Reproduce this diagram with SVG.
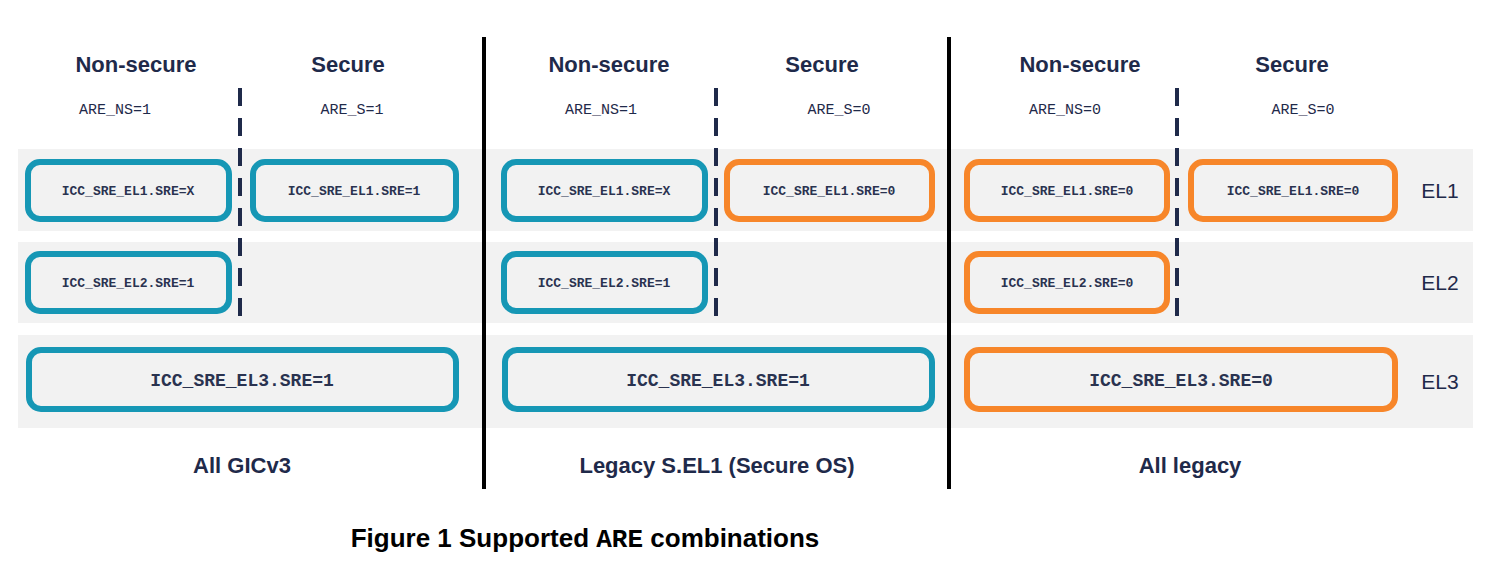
<svg xmlns="http://www.w3.org/2000/svg" width="1489" height="571" viewBox="0 0 1489 571">
<style>
.band{fill:#f2f2f2}
.t{fill:none;stroke:#1697b5;stroke-width:6}
.o{fill:none;stroke:#f7862a;stroke-width:6}
.h{font-family:"Liberation Sans",Arial,sans-serif;font-weight:bold;font-size:22px;fill:#1f2a4a;text-anchor:middle}
.a{font-family:"Liberation Mono","Courier New",monospace;font-size:15px;fill:#1f2a4a;text-anchor:middle}
.m{font-family:"Liberation Mono","Courier New",monospace;font-weight:bold;font-size:13px;fill:#2a3350;text-anchor:middle}
.m3{font-family:"Liberation Mono","Courier New",monospace;font-weight:bold;font-size:18px;fill:#2a3350;text-anchor:middle}
.el{font-family:"Liberation Sans",Arial,sans-serif;font-size:21px;fill:#1f2a4a;text-anchor:middle}
.d{stroke:#1f2a4a;stroke-width:4;stroke-dasharray:18 12}
.v{stroke:#000;stroke-width:4}
</style>
<rect width="1489" height="571" fill="#fff"/>
<g id="bands">
<rect class="band" x="18" y="149" width="1455" height="82"/>
<rect class="band" x="18" y="242" width="1455" height="81"/>
<rect class="band" x="18" y="335" width="1455" height="93"/>
</g>
<g id="connectors">
<line class="v" x1="484" y1="37" x2="484" y2="489"/>
<line class="v" x1="949" y1="37" x2="949" y2="489"/>
<line class="d" x1="240" y1="88" x2="240" y2="323"/>
<line class="d" x1="716" y1="88" x2="716" y2="323"/>
<line class="d" x1="1177" y1="88" x2="1177" y2="323"/>
</g>
<g id="p1">
<text class="h" x="136" y="72">Non-secure</text><text class="h" x="348" y="72">Secure</text>
<text class="a" x="115" y="114">ARE_NS=1</text><text class="a" x="352" y="114">ARE_S=1</text>
<g id="p1ns1"><rect class="t" x="28" y="162" width="201" height="57" rx="12"/><text class="m" x="128" y="195">ICC_SRE_EL1.SRE=X</text></g>
<g id="p1s1"><rect class="t" x="253" y="162" width="203" height="57" rx="12"/><text class="m" x="354" y="195">ICC_SRE_EL1.SRE=1</text></g>
<g id="p1ns2"><rect class="t" x="28" y="254" width="201" height="57" rx="12"/><text class="m" x="128" y="287">ICC_SRE_EL2.SRE=1</text></g>
<g id="p1el3"><rect class="t" x="29" y="350" width="427" height="59" rx="12"/><text class="m3" x="242" y="386">ICC_SRE_EL3.SRE=1</text></g>
<text class="h" x="242" y="473">All GICv3</text>
</g>
<g id="p2">
<text class="h" x="609" y="72">Non-secure</text><text class="h" x="822" y="72">Secure</text>
<text class="a" x="601" y="114">ARE_NS=1</text><text class="a" x="839" y="114">ARE_S=0</text>
<g id="p2ns1"><rect class="t" x="504" y="162" width="201" height="57" rx="12"/><text class="m" x="604" y="195">ICC_SRE_EL1.SRE=X</text></g>
<g id="p2s1"><rect class="o" x="727" y="162" width="205" height="57" rx="12"/><text class="m" x="829" y="195">ICC_SRE_EL1.SRE=0</text></g>
<g id="p2ns2"><rect class="t" x="504" y="254" width="201" height="57" rx="12"/><text class="m" x="604" y="287">ICC_SRE_EL2.SRE=1</text></g>
<g id="p2el3"><rect class="t" x="505" y="350" width="427" height="59" rx="12"/><text class="m3" x="718" y="386">ICC_SRE_EL3.SRE=1</text></g>
<text class="h" x="717" y="473">Legacy S.EL1 (Secure OS)</text>
</g>
<g id="p3">
<text class="h" x="1080" y="72">Non-secure</text><text class="h" x="1292" y="72">Secure</text>
<text class="a" x="1065" y="114">ARE_NS=0</text><text class="a" x="1303" y="114">ARE_S=0</text>
<g id="p3ns1"><rect class="o" x="967" y="162" width="200" height="57" rx="12"/><text class="m" x="1067" y="195">ICC_SRE_EL1.SRE=0</text></g>
<g id="p3s1"><rect class="o" x="1191" y="162" width="204" height="57" rx="12"/><text class="m" x="1293" y="195">ICC_SRE_EL1.SRE=0</text></g>
<g id="p3ns2"><rect class="o" x="967" y="254" width="200" height="57" rx="12"/><text class="m" x="1067" y="287">ICC_SRE_EL2.SRE=0</text></g>
<g id="p3el3"><rect class="o" x="967" y="350" width="428" height="59" rx="12"/><text class="m3" x="1181" y="386">ICC_SRE_EL3.SRE=0</text></g>
<text class="h" x="1190" y="473">All legacy</text>
</g>
<g id="levels">
<text class="el" x="1440" y="198">EL1</text>
<text class="el" x="1440" y="290">EL2</text>
<text class="el" x="1440" y="389">EL3</text>
</g>
<text x="585" y="547" font-family="Liberation Sans,Arial,sans-serif" font-weight="bold" font-size="26" fill="#000" text-anchor="middle">Figure 1 Supported <tspan font-family="Liberation Mono,Courier New,monospace">ARE</tspan> combinations</text>
</svg>
